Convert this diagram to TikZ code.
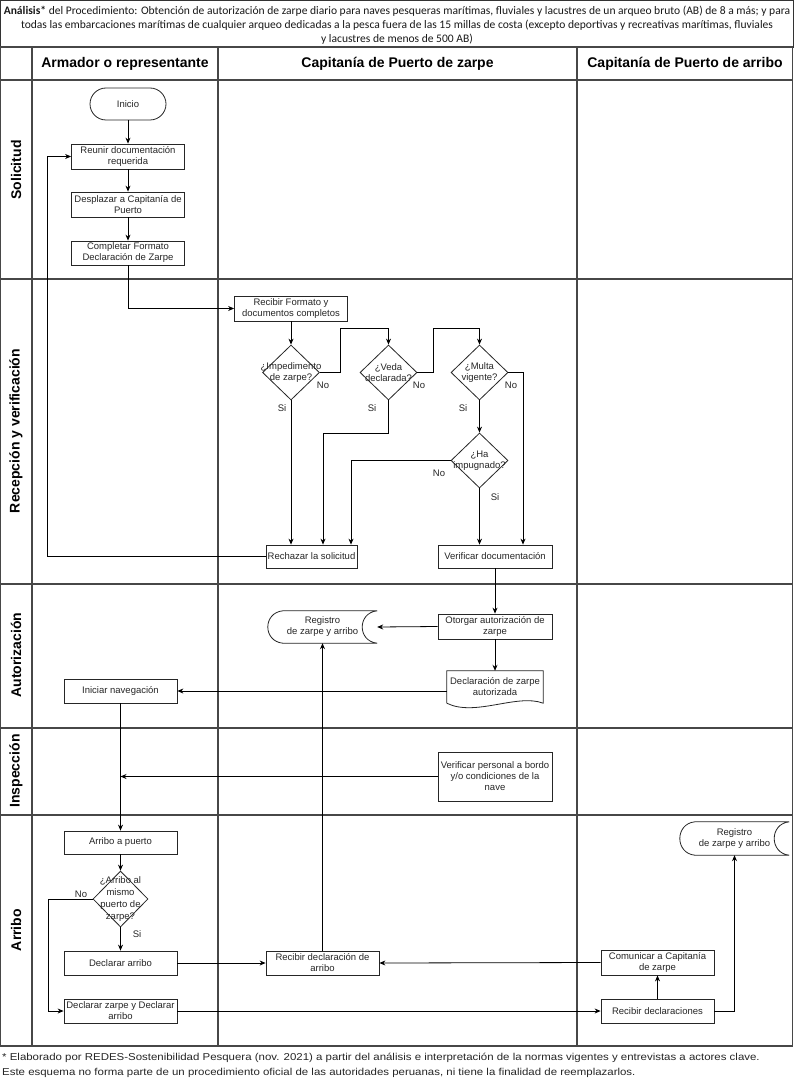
\documentclass[tikz,border=0pt]{standalone}
\usepackage{fontspec}
\setmainfont{Liberation Sans}
\newfontfamily\titlefont{Carlito}
\newfontfamily\footfont[FakeStretch=1.145]{Liberation Sans}
\usetikzlibrary{shapes.geometric,arrows.meta,calc}
\newcommand\boxfont{\fontsize{9.5}{11}\selectfont}
\newcommand\storedshape[1]{\draw[shapeline] ($(#1.north west)+(15,0)$) -- (#1.north east) .. controls +(-20,2) and +(-20,-2) .. (#1.south east) -- ($(#1.south west)+(15,0)$) .. controls +(-20,-2) and +(-20,2) .. ($(#1.north west)+(15,0)$) -- cycle;}
\begin{document}
\begin{tikzpicture}[x=1pt,y=-1pt,
  grid/.style={draw=black!72, line width=1.2pt},
  shapeline/.style={draw=black!85, line width=0.8pt},
  proc/.style={draw=black!85, line width=0.8pt, fill=white, align=center, inner sep=1pt, font=\boxfont, text=black!85},
  ghost/.style={draw=none, align=center, inner sep=1pt, font=\boxfont, text=black!85},
  dia/.style={draw=black!85, line width=0.8pt, diamond, fill=white, inner sep=0pt, minimum width=57pt, minimum height=55pt},
  dtext/.style={font=\boxfont, text=black!85, align=center, inner sep=0pt},
  arr/.style={draw=black, line width=0.8pt, -{Stealth[length=6pt,width=5pt]}},
  ln/.style={draw=black, line width=0.8pt},
  lbl/.style={font=\boxfont, text=black!85, inner sep=0pt},
  lanelbl/.style={rotate=90, font=\bfseries\fontsize{14}{14}\selectfont},
  head/.style={font=\bfseries\fontsize{14}{14}\selectfont},
  foot/.style={anchor=west, font=\footfont\fontsize{10}{12}\selectfont, text=black!85, inner sep=0pt},
]
\fill[white] (0,0) rectangle (794,1083);
\useasboundingbox (0,0) rectangle (794,1083);

% title
\draw[draw=black!80, line width=0.8pt] (0.5,0.5) rectangle (793,47);
\node[font=\titlefont\fontsize{11.55}{14.2}\selectfont, align=center, text=black!90] (title) at (397,25)
 {\textbf{Análisis*} del Procedimiento: Obtención de autorización de zarpe diario para naves pesqueras marítimas, fluviales y lacustres de un arqueo bruto (AB) de 8 a más; y para\\
  todas las embarcaciones marítimas de cualquier arqueo dedicadas a la pesca fuera de las 15 millas de costa (excepto deportivas y recreativas marítimas, fluviales\\
  y lacustres de menos de 500 AB)};

% table
\draw[grid] (0.6,47) rectangle (792.4,1046);
\foreach \x in {32,218,577} \draw[grid] (\x,47) -- (\x,1046);
\foreach \y in {80,279,584,728,815} \draw[grid] (0.6,\y) -- (792.4,\y);

\node[head] (h1) at (125,64) {Armador o representante};
\node[head] (h2) at (397.5,64) {Capitanía de Puerto de zarpe};
\node[head] (h3) at (685,64) {Capitanía de Puerto de arribo};

\node[lanelbl] (l1) at (16,170) {Solicitud};
\node[lanelbl] (l2) at (16,431) {Recepción y verificación};
\node[lanelbl] (l3) at (16,655) {Autorización};
\node[lanelbl] (l4) at (16,771) {Inspección};
\node[lanelbl] (l5) at (16,930) {Arribo};

% Solicitud
\node[proc, rounded corners=16pt, minimum width=76pt, minimum height=32pt] (inicio) at (128,104) {Inicio};
\node[proc, minimum width=113pt, minimum height=25pt] (reunir) at (128,156.5) {Reunir documentación\\requerida};
\node[proc, minimum width=113pt, minimum height=25pt] (despl) at (128,204.5) {Desplazar a Capitanía de\\Puerto};
\node[proc, minimum width=113pt, minimum height=24pt] (compl) at (128,253) {Completar Formato\\Declaración de Zarpe};

% Recepcion
\node[proc, minimum width=113pt, minimum height=25pt] (recib) at (291,308.5) {Recibir Formato y\\documentos completos};
\node[dia, label={[dtext]center:{¿Impedimento\\de zarpe?}}] (d1) at (291,372.5) {};
\node[dia, label={[dtext]center:{¿Veda\\declarada?}}] (d2) at (388.5,372.5) {};
\node[dia, label={[dtext]center:{¿Multa\\vigente?}}] (d3) at (479.5,372.5) {};
\node[dia, label={[dtext]center:{¿Ha\\impugnado?}}] (d4) at (479.5,460.5) {};
\node[proc, minimum width=91pt, minimum height=23pt] (rech) at (311.5,556.5) {Rechazar la solicitud};
\node[proc, minimum width=114pt, minimum height=23pt] (verif) at (495,556.5) {Verificar documentación};

% Autorizacion
\node[proc, minimum width=114pt, minimum height=25pt] (otorg) at (495,626.5) {Otorgar autorización de\\zarpe};
\node[ghost, minimum width=109pt, minimum height=32pt] (reg1) at (322.5,627) {Registro\\de zarpe y arribo};
\storedshape{reg1}
\node[ghost, minimum width=96pt, minimum height=32pt] (decl) at (495,687) {Declaración de zarpe\\autorizada};
\draw[shapeline] (decl.south west) -- (decl.north west) -- (decl.north east) -- (decl.south east) .. controls +(-26,-10) and +(28,14) .. (decl.south west);
\node[proc, minimum width=113pt, minimum height=24pt] (inic) at (120.5,691) {Iniciar navegación};

% Inspeccion
\node[proc, minimum width=114pt, minimum height=49pt] (vpers) at (495,776.5) {Verificar personal a bordo\\y/o condiciones de la\\nave};

% Arribo
\node[proc, minimum width=113pt, minimum height=23pt] (arrib) at (120.5,842.5) {Arribo a puerto};
\node[dia, minimum width=55pt, minimum height=56pt, label={[dtext, execute at begin node=\fontsize{9.5}{11.7}\selectfont]center:{¿Arribo al\\mismo\\puerto de\\zarpe?}}] (d5) at (120.5,899) {};
\node[proc, minimum width=113pt, minimum height=24pt] (decarr) at (120.5,963) {Declarar arribo};
\node[proc, minimum width=113pt, minimum height=24pt] (deczar) at (120.5,1011) {Declarar zarpe y Declarar\\arribo};
\node[proc, minimum width=113pt, minimum height=24pt] (recdec) at (322.5,963) {Recibir declaración de\\arribo};
\node[proc, minimum width=113pt, minimum height=25pt] (comun) at (657.5,962.5) {Comunicar a Capitanía\\de zarpe};
\node[proc, minimum width=113pt, minimum height=24pt] (recdecs) at (657.5,1011) {Recibir declaraciones};
\node[ghost, minimum width=109pt, minimum height=33pt] (reg2) at (734.5,838.5) {Registro\\de zarpe y arribo};
\storedshape{reg2}

% connectors
\draw[arr] (inicio.south) -- (reunir.north);
\draw[arr] (reunir.south) -- (despl.north);
\draw[arr] (despl.south) -- (compl.north);
\draw[arr] (compl.south) |- (recib.west);
\draw[arr] (recib.south) -- (d1.north);
\draw[arr] (d1.east) -| (340,328) -| (d2.north);
\draw[arr] (d2.east) -| (433,328) -| (d3.north);
\draw[arr] (d3.east) -| ([xshift=28pt]verif.north);
\draw[arr] (d1.south) -- (d1.south |- rech.north);
\draw[arr] (d2.south) |- (323,433) -- ([xshift=11.5pt]rech.north);
\draw[arr] (d3.south) -- (d4.north);
\draw[arr] (d4.west) -| ([xshift=39.5pt]rech.north);
\draw[arr] (d4.south) -- (d4.south |- verif.north);
\draw[arr] (rech.west) -- ++(-218,0) |- (reunir.west);
\draw[arr] (verif.south) -- (otorg.north);
\draw[arr] (otorg.west) -- (reg1.east);
\draw[arr] (otorg.south) -- (decl.north);
\draw[arr] ([yshift=-4pt]decl.west) -- (inic.east);
\draw[arr] (inic.south) -- (arrib.north);
\draw[arr] (vpers.west) -- (inic.south |- vpers.west);
\draw[arr] (arrib.south) -- (d5.north);
\draw[arr] (d5.south) -- (decarr.north);
\draw[arr] (d5.west) -- ++(-44,0) |- (deczar.west);
\draw[arr] (decarr.east) -- (recdec.west);
\draw[arr] (recdec.north) -- (recdec.north |- reg1.south);
\draw[arr] (deczar.east) -- (recdecs.west);
\draw[arr] (recdecs.north) -- (comun.south);
\draw[arr] (comun.west) -- (recdec.east);
\draw[arr] (recdecs.east) -| (reg2.south);

% edge labels
\node[lbl] (n1) at (323,385) {No};
\node[lbl] (n2) at (419,385) {No};
\node[lbl] (n3) at (511,385) {No};
\node[lbl] (s1) at (282,408) {Si};
\node[lbl] (s2) at (372,408) {Si};
\node[lbl] (s3) at (463,408) {Si};
\node[lbl] (n4) at (439,473) {No};
\node[lbl] (s4) at (495,497) {Si};
\node[lbl] (n5) at (81,894) {No};
\node[lbl] (s5) at (137,934) {Si};

% footer
\node[foot] (f1) at (2,1058) {* Elaborado por REDES-Sostenibilidad Pesquera (nov. 2021) a partir del análisis e interpretación de la normas vigentes y entrevistas a actores clave.};
\node[foot] (f2) at (2,1073) {Este esquema no forma parte de un procedimiento oficial de las autoridades peruanas, ni tiene la finalidad de reemplazarlos.};
\end{tikzpicture}
\end{document}
